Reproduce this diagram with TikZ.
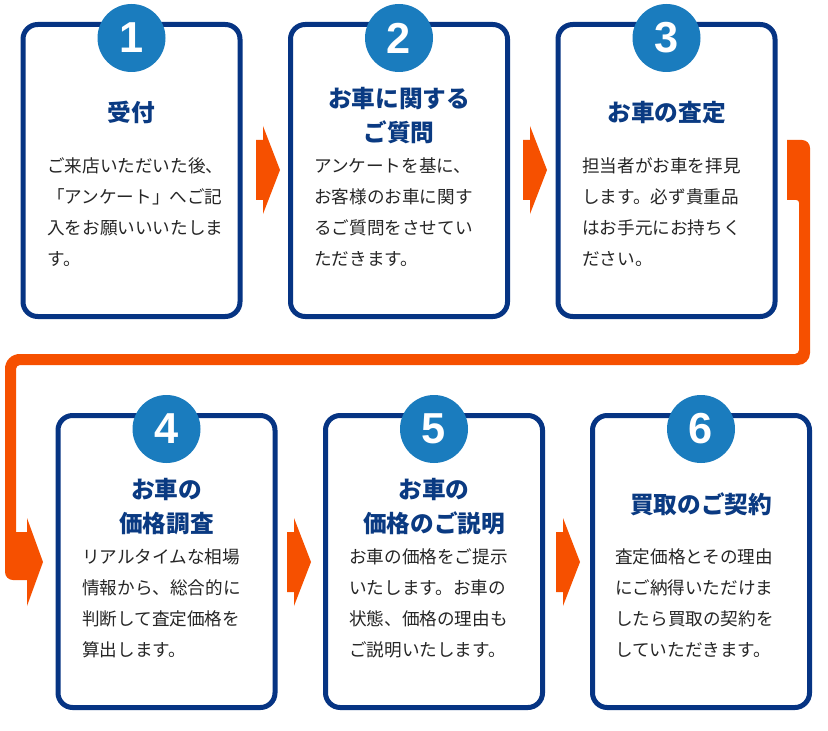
\documentclass[tikz,border=0pt]{standalone}
\usepackage{fontspec}
\newfontfamily\jpfont{Noto Sans CJK JP}
\newfontfamily\digitfont{Liberation Sans}
\definecolor{navy}{HTML}{063483}
\definecolor{ttlc}{HTML}{0A3A82}
\definecolor{circ}{HTML}{1A7CBE}
\definecolor{org}{RGB}{246,80,0}
\definecolor{bodyc}{HTML}{262626}
\newcommand{\mybody}[1]{\vtop{\baselineskip=23.25pt\lineskiplimit=-20pt\lineskip=0pt #1}}
\newcommand{\mytitle}[1]{\vtop{\baselineskip=25.5pt\lineskiplimit=-20pt\lineskip=0pt #1}}
\newcommand{\myc}[1]{\hbox to 160pt{\hss #1\hss}}
\begin{document}
\begin{tikzpicture}[x=0.75pt,y=-0.75pt,
  box/.style={draw=navy, line width=3.75pt, rounded corners=11pt, fill=white,
    minimum width=162.75pt, minimum height=219pt, inner sep=0pt},
  numc/.style={circle, fill=circ, minimum size=51pt, inner sep=0pt, text=white,
    font=\digitfont\bfseries\fontsize{32.5}{32.5}\selectfont},
  ttl/.style={anchor=base, inner sep=0pt, text=ttlc, font=\jpfont\bfseries\fontsize{17.75}{17.75}\selectfont},
  bdy/.style={anchor=base west, inner sep=0pt, text=bodyc, font=\jpfont\fontsize{13.2}{13.2}\selectfont},
  blockarrow/.style={fill=org}]
\fill[white] (0,0) rectangle (828,731);
\useasboundingbox (0,0) rectangle (828,731);

% connector (top-right to bottom-left)
\fill[org] (787,200) -- (787,140) [rounded corners=6pt] -- (810,140) [rounded corners=9pt] -- (810,365)
  [rounded corners=3pt] -- (16,365) [sharp corners] -- (16,532) -- (27,532) -- (27,518) -- (43,562) -- (27,606) -- (27,580)
  [rounded corners=6pt] -- (5,580) [rounded corners=11pt] -- (5,354) [rounded corners=3pt] -- (799,354)
  [rounded corners=2pt] -- (799,200) [sharp corners] -- cycle;

% boxes
\node[box] (b1) at (131.5,170.5) {};
\node[box] (b2) at (399,170.5) {};
\node[box] (b3) at (666.5,170.5) {};
\node[box] (b4) at (166.5,561.5) {};
\node[box] (b5) at (434,561.5) {};
\node[box] (b6) at (701,561.5) {};

% block arrows between boxes
\fill[blockarrow] (256,140) -- (263,140) -- (263,126) -- (280,170) -- (263,214) -- (263,200) -- (256,200) -- cycle;
\fill[blockarrow] (523,140) -- (530,140) -- (530,126) -- (547,170) -- (530,214) -- (530,200) -- (523,200) -- cycle;
\fill[blockarrow] (287,532) -- (294,532) -- (294,518) -- (311,562) -- (294,606) -- (294,592) -- (287,592) -- cycle;
\fill[blockarrow] (556,532) -- (563,532) -- (563,518) -- (580,562) -- (563,606) -- (563,592) -- (556,592) -- cycle;

% number circles
\node[numc] (c1) at (131.5,38) {1};
\node[numc] (c2) at (399,38) {2};
\node[numc] (c3) at (666.5,38) {3};
\node[numc] (c4) at (166.5,429) {4};
\node[numc] (c5) at (434,429) {5};
\node[numc] (c6) at (701,429) {6};

% titles
\node[ttl] (t1) at (131.5,122) {\mytitle{\myc{受付}}};
\node[ttl] (t2) at (399,107.5) {\mytitle{\myc{お車に関する}\myc{ご質問}}};
\node[ttl] (t3) at (666.5,122) {\mytitle{\myc{お車の査定}}};
\node[ttl] (t4) at (166.5,498.5) {\mytitle{\myc{お車の}\myc{価格調査}}};
\node[ttl] (t5) at (434,498.5) {\mytitle{\myc{お車の}\myc{価格のご説明}}};
\node[ttl] (t6) at (701,513) {\mytitle{\myc{買取のご契約}}};

% body texts
\node[bdy] (d1) at (47,172.5) {\mybody{\hbox{ご来店いただいた後、}\hbox{「アンケート」へご記}\hbox{入をお願いいいたしま}\hbox{す。}}};
\node[bdy] (d2) at (314,172.5) {\mybody{\hbox{アンケートを基に、}\hbox{お客様のお車に関す}\hbox{るご質問をさせてい}\hbox{ただきます。}}};
\node[bdy] (d3) at (582,172.5) {\mybody{\hbox{担当者がお車を拝見}\hbox{します。必ず貴重品}\hbox{はお手元にお持ちく}\hbox{ださい。}}};
\node[bdy] (d4) at (82,563.5) {\mybody{\hbox{リアルタイムな相場}\hbox{情報から、総合的に}\hbox{判断して査定価格を}\hbox{算出します。}}};
\node[bdy] (d5) at (349,563.5) {\mybody{\hbox{お車の価格をご提示}\hbox{いたします。お車の}\hbox{状態、価格の理由も}\hbox{ご説明いたします。}}};
\node[bdy] (d6) at (615,563.5) {\mybody{\hbox{査定価格とその理由}\hbox{にご納得いただけま}\hbox{したら買取の契約を}\hbox{していただきます。}}};
\end{tikzpicture}
\end{document}
